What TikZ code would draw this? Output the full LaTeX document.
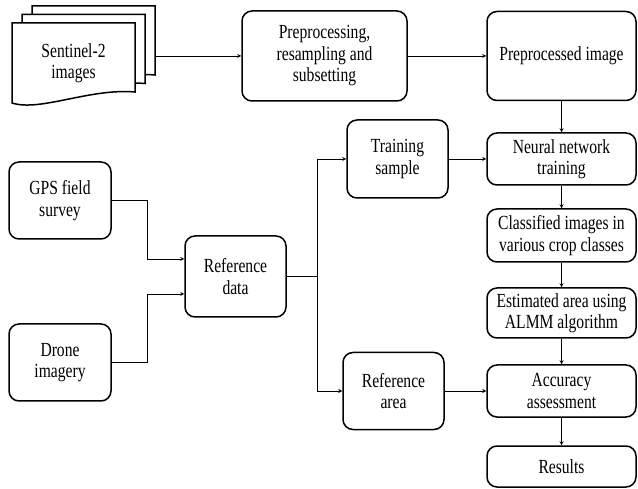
\documentclass[tikz,border=0pt]{standalone}
\usepackage{fontspec}
\setmainfont[FakeStretch=0.78]{Liberation Serif}
\usepackage{tikz}
\usetikzlibrary{arrows, positioning, calc}

\begin{document}
\begin{tikzpicture}[
    x=1pt, y=-1pt,
    box/.style={draw, rectangle, rounded corners=10pt, line width=1.5pt, align=center, inner sep=0pt, font=\fontsize{20}{21.5}\selectfont},
    rbox/.style={box, minimum width=149pt},
    docsheet/.style={draw, line width=1.5pt, fill=white},
    arrow/.style={->, >=stealth, line width=0.8pt},
    line/.style={line width=0.8pt}
]
\useasboundingbox[fill=white] (0,0) rectangle (638,489);

% Sentinel-2 stack (back to front)
\foreach \k in {2,1,0}{
    \draw[docsheet, shift={(10*\k,-8.5*\k)}] (12,23) -- (135,23) -- (135,92) .. controls (90,88) and (40,112) .. (12,103) -- cycle;
}
\node[font=\fontsize{20}{21.5}\selectfont, align=center] (sentinel) at (73.5,63) {Sentinel-2\\images};
\coordinate (sentinelout) at (155,56);

% Top row
\node[box, minimum width=165pt, minimum height=90pt] (prep) at (324.5,56) {Preprocessing,\\resampling and\\subsetting};
\node[rbox, minimum height=89pt] (preimg) at (561.5,56) {Preprocessed image};

% Right column
\node[rbox, minimum height=52pt] (nn) at (561.5,159) {Neural network\\training};
\node[rbox, minimum height=53pt] (cls) at (561.5,235.5) {Classified images in\\various crop classes};
\node[rbox, minimum height=50pt] (est) at (561.5,313) {Estimated area using\\ALMM algorithm};
\node[rbox, minimum height=52pt] (acc) at (561.5,391) {Accuracy\\assessment};
\node[rbox, minimum height=41pt] (res) at (561.5,466.5) {Results};

% Reference data branch
\node[box, minimum width=102pt, minimum height=77pt] (gps) at (60,200.5) {GPS field\\survey};
\node[box, minimum width=102pt, minimum height=77pt] (drone) at (60,362.5) {Drone\\imagery};
\node[box, minimum width=101pt, minimum height=81pt] (refdata) at (235.5,276.5) {Reference\\data};
\node[box, minimum width=101pt, minimum height=78pt] (train) at (397.5,159) {Training\\sample};
\node[box, minimum width=101pt, minimum height=77pt] (refarea) at (393.5,391) {Reference\\area};

\draw[arrow] (sentinelout) -- (prep);
\draw[arrow] (prep) -- (preimg);
\draw[arrow] (preimg) -- (nn);
\draw[arrow] (nn) -- (cls);
\draw[arrow] (cls) -- (est);
\draw[arrow] (est) -- (acc);
\draw[arrow] (acc) -- (res);

\draw[arrow] (gps.east) -- ++(36,0) |- ([yshift=17.5pt]refdata.west);
\draw[arrow] (drone.east) -- ++(36,0) |- ([yshift=-17.5pt]refdata.west);
\draw[line] (refdata.east) -- ++(31,0) coordinate (split);
\draw[arrow] (split) |- (train.west);
\draw[arrow] (split) |- (refarea.west);
\draw[arrow] (train) -- (nn);
\draw[arrow] (refarea) -- (acc);

\end{tikzpicture}
\end{document}
